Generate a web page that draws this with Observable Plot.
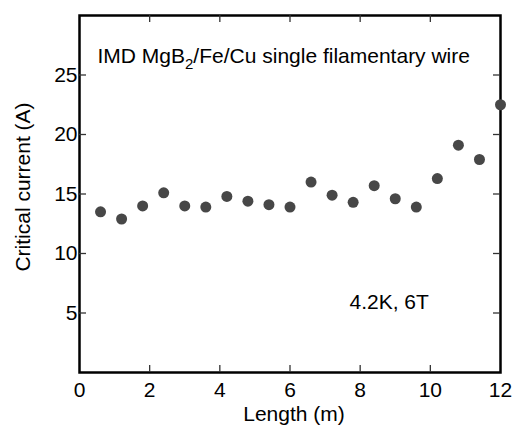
<!DOCTYPE html>
<html>
<head>
<meta charset="utf-8">
<script src="https://cdn.jsdelivr.net/npm/d3@7"></script>
<script src="https://cdn.jsdelivr.net/npm/@observablehq/plot@0.6"></script>
<style>
  html, body { margin: 0; padding: 0; background: #fff; }
</style>
</head>
<body>
<div id="chart"></div>
<script>
const lengths = [0.6, 1.2, 1.8, 2.4, 3.0, 3.6, 4.2, 4.8, 5.4, 6.0, 6.6, 7.2, 7.8, 8.4, 9.0, 9.6, 10.2, 10.8, 11.4, 12.0];
const current = [13.5, 12.9, 14.0, 15.1, 14.0, 13.9, 14.8, 14.4, 14.1, 13.9, 16.0, 14.9, 14.3, 15.7, 14.6, 13.9, 16.3, 19.1, 17.9, 22.5];
const xTickLabels = [0, 2, 4, 6, 8, 10, 12];
const xInnerTicks = [2, 4, 6, 8, 10];
const yTickLabels = [5, 10, 15, 20, 25];
const titleText = "IMD MgB2/Fe/Cu single filamentary wire";
const conditionText = "4.2K, 6T";
const xLabel = "Length (m)";
const yLabel = "Critical current (A)";

const data = lengths.map((x, i) => ({x, y: current[i]}));
const font = "'Liberation Sans', Arial, Helvetica, sans-serif";
const W = 512, H = 426, ML = 79, MR = 12, MT = 15, MB = 54;
const innerW = W - ML - MR, innerH = H - MT - MB, tickLen = 7;

const chart = Plot.plot({
  width: W,
  height: H,
  marginLeft: ML,
  marginRight: MR,
  marginTop: MT,
  marginBottom: MB,
  x: {domain: [0, 12]},
  y: {domain: [0, 30]},
  style: {fontFamily: font, fontSize: "21px", color: "#000", background: "#fff"},
  marks: [
    Plot.axisX(xTickLabels, {tickSize: 0, tickPadding: 10, fontSize: 21, label: null}),
    Plot.axisY(yTickLabels, {tickSize: 0, tickPadding: 2, fontSize: 21, label: null}),
    Plot.frame({stroke: "#000", strokeWidth: 2.5}),
    // inward ticks on all four sides
    Plot.ruleX(xInnerTicks, {x: d => d, insetTop: innerH - tickLen, stroke: "#333", strokeWidth: 1.3}),
    Plot.ruleX(xInnerTicks, {x: d => d, insetBottom: innerH - tickLen, stroke: "#333", strokeWidth: 1.3}),
    Plot.ruleY(yTickLabels, {y: d => d, insetRight: innerW - tickLen, stroke: "#333", strokeWidth: 1.3}),
    Plot.ruleY(yTickLabels, {y: d => d, insetLeft: innerW - tickLen, stroke: "#333", strokeWidth: 1.3}),
    Plot.text([yLabel], {text: d => d, frameAnchor: "left", rotate: -90, dx: -56, dy: -7, fontSize: 21, textAnchor: "middle", lineAnchor: "middle"}),
    Plot.text([xLabel], {text: d => d, frameAnchor: "bottom", dx: 4, dy: 42, fontSize: 21, textAnchor: "middle", lineAnchor: "middle"}),
    Plot.text([titleText], {text: d => d, frameAnchor: "top-left", dx: 18, dy: 33, fontSize: 21, textAnchor: "start", lineAnchor: "top"}),
    Plot.text([conditionText], {text: d => d, frameAnchor: "top-left", dx: 270, dy: 279, fontSize: 21, textAnchor: "start", lineAnchor: "top"}),
    Plot.dot(data, {x: "x", y: "y", r: 5.5, fill: "#474747", stroke: "none"})
  ]
});

// subscript the "2" in MgB2
d3.select(chart).selectAll("text").each(function() {
  if (this.textContent === titleText) {
    this.textContent = "";
    const t = d3.select(this);
    t.append("tspan").text("IMD MgB");
    t.append("tspan").attr("font-size", 15).attr("dy", 6).text("2");
    t.append("tspan").attr("dy", -6).text("/Fe/Cu single filamentary wire");
  }
});

document.getElementById("chart").appendChild(chart);
</script>
</body>
</html>
